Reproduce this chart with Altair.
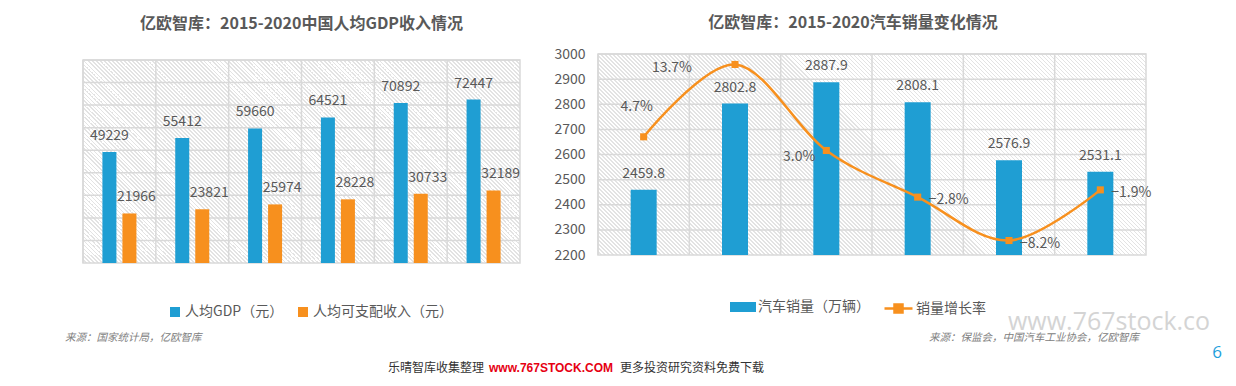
import math
import altair as alt
import pandas as pd

# ---------------- data ----------------
years = ["2015", "2016", "2017", "2018", "2019", "2020"]
gdp = [49229, 55412, 59660, 64521, 70892, 72447]
income = [21966, 23821, 25974, 28228, 30733, 32189]
sales = [2459.8, 2802.8, 2887.9, 2808.1, 2576.9, 2531.1]
growth = [4.7, 13.7, 3.0, -2.8, -8.2, -1.9]
left_grid = [10000, 20000, 30000, 40000, 50000, 60000, 70000, 80000, 90000]
right_grid = [2300, 2400, 2500, 2600, 2700, 2800, 2900, 3000]
right_ticks = [2200, 2300, 2400, 2500, 2600, 2700, 2800, 2900, 3000]

s_gdp = "人均GDP（元）"
s_inc = "人均可支配收入（元）"
s_sales = "汽车销量（万辆）"
s_growth = "销量增长率"

title_left = "亿欧智库：2015-2020中国人均GDP收入情况"
title_right = "亿欧智库：2015-2020汽车销量变化情况"
src_left = "来源：国家统计局，亿欧智库"
src_right = "来源：保监会，中国汽车工业协会，亿欧智库"
foot1 = "乐晴智库收集整理"
foot2 = "www.767STOCK.COM"
foot3 = "更多投资研究资料免费下载"
watermark = "www.767stock.com"
page_no = "6"

# ---------------- style ----------------
FONT = "Noto Sans CJK SC"
GRAY = "#595959"
BLUE = "#1f9ed3"
ORANGE = "#f7901e"
GRID = "#d9d9d9"
LW, LH = 437, 209          # left plot (hatched frame occupies the lower 203 px)
LTOP = 90000 * 209 / 203   # y domain top so the 0-90000 frame is 203 px tall
RW, RH = 548, 201


def hatch(w, h, period=2.83, line_frac=0.38, line="#e3e3e3", bg="#ffffff"):
    L = (w + h) / math.sqrt(2)
    n = int(round(L / period))
    stops = []
    for i in range(n):
        a = i / n
        b = (i + 1 - line_frac) / n
        c = (i + 1) / n
        stops += [
            alt.GradientStop(color=bg, offset=a),
            alt.GradientStop(color=bg, offset=b),
            alt.GradientStop(color=line, offset=b),
            alt.GradientStop(color=line, offset=c),
        ]
    s = (w + h) / (w * w + h * h)
    return alt.LinearGradient(gradient="linear", stops=stops,
                              x1=0, y1=1, x2=s * w, y2=1 - s * h)


def label(text, x, y, size=14, color=GRAY, align="center", weight="normal",
          style="normal", font=FONT, baseline="middle", limit=0):
    return alt.Chart(pd.DataFrame({"t": [text]})).mark_text(
        align=align, baseline=baseline, fontSize=size, color=color,
        fontWeight=weight, fontStyle=style, font=font, limit=limit, ellipsis="\u200b"
    ).encode(x=alt.value(x), y=alt.value(y), text="t:N")


one = pd.DataFrame({"a": [0]})

# ================= LEFT CHART =================
left_df = pd.DataFrame({
    "year": years * 2,
    "series": [s_gdp] * 6 + [s_inc] * 6,
    "value": gdp + income,
})

xs_left = alt.Scale(domain=years, paddingInner=0, paddingOuter=0)
ys_left = alt.Scale(domain=[0, LTOP], nice=False)
xoff_scale = alt.Scale(domain=[s_gdp, s_inc], paddingInner=0.3, paddingOuter=0.97)

x_left = alt.X("year:N", scale=xs_left, axis=alt.Axis(
    title=None, labelAngle=0, grid=False, ticks=False, tickSize=0,
    domain=True, domainColor="#cfcfcf", domainWidth=1.5, zindex=1,
    labelFontSize=14, labelColor=GRAY, labelFont=FONT, labelPadding=12))

bg_left = alt.Chart(one).mark_rect(fill=hatch(LW, 203), stroke=GRID, strokeWidth=1.5).encode(
    x=alt.value(0), x2=alt.value(LW),
    y=alt.Y(datum=left_grid[-1], scale=ys_left, axis=None), y2=alt.datum(0))
hgrid_left = alt.Chart(pd.DataFrame({"v": left_grid})).mark_rule(
    color=GRID, strokeWidth=1.5).encode(y=alt.Y("v:Q", scale=ys_left, axis=None))
vgrid_left = alt.Chart(pd.DataFrame({"year": years})).mark_rule(
    color=GRID, strokeWidth=1.5).encode(
    x=alt.X("year:N", scale=xs_left, bandPosition=0, axis=None),
    y=alt.Y(datum=left_grid[-1], scale=ys_left, axis=None), y2=alt.datum(0))

bars_left = alt.Chart(left_df).mark_bar().encode(
    x=x_left,
    xOffset=alt.XOffset("series:N", scale=xoff_scale),
    y=alt.Y("value:Q", scale=ys_left, axis=None),
    fill=alt.Fill("series:N", scale=alt.Scale(domain=[s_gdp, s_inc], range=[BLUE, ORANGE]),
                  legend=alt.Legend(title=None, orient="none", legendX=85, legendY=251,
                                    direction="horizontal", symbolType="square",
                                    symbolSize=100, symbolStrokeWidth=0,
                                    labelFontSize=14, labelColor=GRAY, labelFont=FONT,
                                    labelOffset=3, columnPadding=12, padding=0)),
)


def left_text(series, dx):
    return alt.Chart(left_df).transform_filter(
        alt.datum.series == series
    ).mark_text(dy=-16, dx=dx, fontSize=14, color=GRAY, font=FONT, baseline="middle").encode(
        x=alt.X("year:N", scale=xs_left, axis=None),
        xOffset=alt.XOffset("series:N", scale=xoff_scale),
        y=alt.Y("value:Q", scale=ys_left, axis=None),
        text=alt.Text("value:Q", format="d"),
    )


left = alt.layer(
    bg_left, hgrid_left, vgrid_left, bars_left,
    left_text(s_gdp, 0), left_text(s_inc, 7),
    label(title_left, LW / 2, -30, size=16, weight="bold"),
    label(src_left, -18, 284, size=10.5, color="#808080", align="left", style="italic"),
    label(foot1, 305, 314, size=12, color="#333333", align="left"),
    label(foot2, 406, 314, size=12, color="#e60012", align="left", weight="bold",
          font="Liberation Sans"),
    label(foot3, 537, 314, size=12, color="#333333", align="left"),
).properties(width=LW, height=LH)

# ================= RIGHT CHART =================
right_df = pd.DataFrame({
    "year": years, "sales": sales, "growth": growth,
    "s1": [s_sales] * 6, "s2": [s_growth] * 6,
})
xs_right = alt.Scale(domain=years, paddingInner=0, paddingOuter=0)
ys_sales = alt.Scale(domain=[2200, 3000], nice=False, zero=False)
ys_growth = alt.Scale(domain=[-10, 15], nice=False, zero=False)

x_right = alt.X("year:N", scale=xs_right, axis=alt.Axis(
    title=None, labelAngle=0, grid=False, ticks=True, tickSize=4, tickBand="extent",
    tickColor="#cfcfcf", tickWidth=1.5,
    domain=True, domainColor="#cfcfcf", domainWidth=1.5, zindex=1,
    labelFontSize=14, labelColor=GRAY, labelFont=FONT, labelPadding=6))

bg_right = alt.Chart(one).mark_rect(fill=hatch(RW, RH), stroke=GRID, strokeWidth=1.5).encode(
    x=alt.value(0), x2=alt.value(RW), y=alt.value(0), y2=alt.value(RH))
hgrid_right = alt.Chart(pd.DataFrame({"v": right_grid})).mark_rule(
    color=GRID, strokeWidth=1.5).encode(y=alt.Y("v:Q", scale=ys_sales, axis=None))
vgrid_right = alt.Chart(pd.DataFrame({"year": years})).mark_rule(
    color=GRID, strokeWidth=1.5).encode(
    x=alt.X("year:N", scale=xs_right, bandPosition=0, axis=None))

bars_right = alt.Chart(right_df).mark_bar(size=26, clip=True).encode(
    x=x_right,
    y=alt.Y("sales:Q", scale=ys_sales, axis=alt.Axis(
        title=None, values=right_ticks, format="d", grid=False, ticks=False, tickSize=0,
        domain=False, labelFontSize=14, labelColor=GRAY, labelFont=FONT, labelPadding=13)),
    fill=alt.Fill("s1:N", scale=alt.Scale(domain=[s_sales], range=[BLUE]),
                  legend=alt.Legend(title=None, orient="none", legendX=135, legendY=243,
                                    symbolType="M-1.3,-0.5H1.3V0.5H-1.3Z", symbolSize=400,
                                    symbolStrokeWidth=0, labelFontSize=14, labelColor=GRAY,
                                    labelFont=FONT, labelOffset=5, padding=0)),
)
bar_labels = alt.Chart(right_df).mark_text(
    dy=-16, fontSize=14, color=GRAY, font=FONT, baseline="middle").encode(
    x=alt.X("year:N", scale=xs_right, axis=None),
    y=alt.Y("sales:Q", scale=ys_sales, axis=None),
    text=alt.Text("sales:Q", format=".1f"),
)

line = alt.Chart(right_df).mark_line(interpolate="cardinal", strokeWidth=2.5).encode(
    x=alt.X("year:N", scale=xs_right, axis=None),
    y=alt.Y("growth:Q", scale=ys_growth, axis=None),
    stroke=alt.Stroke("s2:N", scale=alt.Scale(domain=[s_growth], range=[ORANGE]),
                      legend=alt.Legend(title=None, orient="none", legendX=289, legendY=243,
                                        symbolType="M-1.4,0H1.4M-0.4,-0.4H0.4V0.4H-0.4Z",
                                        symbolSize=400, symbolStrokeWidth=2.5,
                                        symbolFillColor=ORANGE,
                                        labelFontSize=14, labelColor=GRAY,
                                        labelFont=FONT, labelOffset=6, padding=0)),
)
points = alt.Chart(right_df).mark_point(shape="square", filled=True, size=50,
                                        color=ORANGE, opacity=1).encode(
    x=alt.X("year:N", scale=xs_right, axis=None),
    y=alt.Y("growth:Q", scale=ys_growth, axis=None),
)


def rate_text(sel, align, dx, dy):
    return alt.Chart(right_df).transform_filter(
        alt.FieldOneOfPredicate(field="year", oneOf=sel)
    ).transform_calculate(
        lab="format(datum.growth, '.1f') + '%'"
    ).mark_text(align=align, dx=dx, dy=dy, fontSize=14, color=GRAY, font=FONT,
                baseline="middle").encode(
        x=alt.X("year:N", scale=xs_right, axis=None),
        y=alt.Y("growth:Q", scale=ys_growth, axis=None),
        text="lab:N",
    )


right = alt.layer(
    bg_right, hgrid_right, vgrid_right, bars_right, bar_labels, line, points,
    rate_text(["2015"], "center", -7, -30),
    rate_text(["2016"], "right", -43, 4),
    rate_text(["2017"], "right", -11, 7),
    rate_text(["2018", "2019", "2020"], "left", 11, 3),
    label(title_right, 255, -31, size=16, weight="bold"),
    label(src_right, 331, 284, size=10.5, color="#808080", align="left", style="italic"),
    label(watermark, 410, 268, size=25, color="#d4d4d4", align="left", font="Open Sans",
          limit=220),
    label(page_no, 619, 299, size=17, color="#1ea0dc", font="Open Sans"),
).resolve_scale(y="independent").properties(width=RW, height=RH)

chart = alt.hconcat(left, right, spacing=78, bounds="flush").resolve_scale(
    fill="independent", stroke="independent"
).resolve_legend(
    fill="independent", stroke="independent"
).properties(
    padding={"left": 57, "top": 7, "right": 0, "bottom": 0}
).configure(font=FONT).configure_view(stroke=None)

chart.save("out.html", embed_options={"renderer": "svg", "actions": False})
